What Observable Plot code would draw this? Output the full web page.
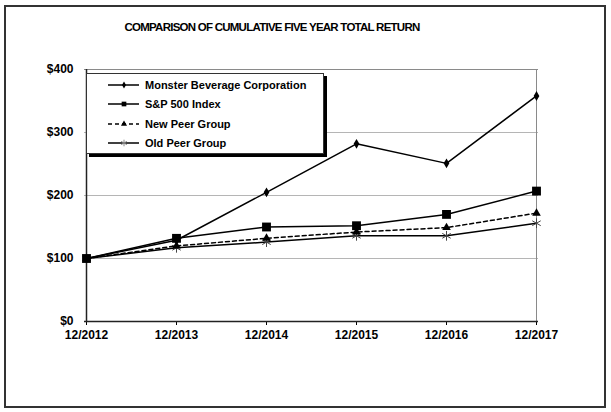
<!DOCTYPE html>
<html><head><meta charset="utf-8">
<script src="https://cdn.jsdelivr.net/npm/d3@7"></script>
<script src="https://cdn.jsdelivr.net/npm/@observablehq/plot@0.6"></script>
<style>
body{margin:0;background:#fff;font-family:"Liberation Sans",Arial,sans-serif;}
#wrap{position:relative;width:611px;height:412px;overflow:hidden;background:#fff;}
#border{position:absolute;left:4px;top:5px;width:602px;height:403px;border:2px solid #333;box-sizing:border-box;}
#title{position:absolute;left:0;top:20px;width:544px;text-align:center;font-weight:bold;font-size:11.5px;letter-spacing:-0.75px;line-height:14px;color:#000;}
#chart{position:absolute;left:0;top:40px;}
#legend{position:absolute;left:86px;top:73px;width:238px;height:81px;box-sizing:border-box;border:1px solid #333;background:#fff;box-shadow:3px 3px 0 #000;}
.row{position:absolute;left:0;height:16px;font-weight:bold;font-size:11px;color:#000;}
.row svg{position:absolute;left:20px;top:0;}
.row span{position:absolute;left:58px;top:1px;white-space:nowrap;line-height:14px;}
</style></head>
<body>
<div id="wrap">
  <div id="border"></div>
  <div id="title">COMPARISON OF CUMULATIVE FIVE YEAR TOTAL RETURN</div>
  <div id="chart"></div>
  <div id="legend"></div>
</div>
<script>
const years = ["12/2012","12/2013","12/2014","12/2015","12/2016","12/2017"];
const seriesNames = ["Monster Beverage Corporation","S&P 500 Index","New Peer Group","Old Peer Group"];
const monster = [100,129,205,282,251,358];
const sp500   = [100,132,150,152,170,207];
const newPeer = [100,120,132,142,149,172];
const oldPeer = [100,117,126,136,136,156];
const yTicks = [0,100,200,300,400];

const values = [monster, sp500, newPeer, oldPeer];
const symbols = ["diamond","square","triangle","asterisk"];
const radii = [3, 5, 3.2, 4.6];
const dashes = [null, null, "4,3", null];

const data = [];
seriesNames.forEach((s, i) => values[i].forEach((v, j) => data.push({series: s, year: years[j], value: v})));

const W = 611, H = 372;
const marks = [
  Plot.ruleY([100,200,300], {stroke: "#b5b5b5", strokeWidth: 1}),
  Plot.ruleY([400], {stroke: "#8a8a8a", strokeWidth: 1}),
  Plot.ruleX([years[years.length-1]], {stroke: "#8a8a8a", strokeWidth: 1}),
  Plot.axisX({tickSize: 4, tickPadding: 5, stroke: "#000"}),
  Plot.axisY({ticks: yTicks, tickSize: 0, tickPadding: 11, tickFormat: d => "$" + d}),
  Plot.ruleY([0], {stroke: "#222", strokeWidth: 1.5}),
  Plot.ruleX([years[0]], {stroke: "#222", strokeWidth: 1.5})
];
// draw in reverse so Monster on top
for (let i = seriesNames.length - 1; i >= 0; i--) {
  const d = data.filter(r => r.series === seriesNames[i]);
  marks.push(Plot.line(d, {x: "year", y: "value", stroke: "#000", strokeWidth: 1.5, strokeDasharray: dashes[i]}));
  marks.push(Plot.dot(d, {x: "year", y: "value", symbol: () => symbols[i], r: radii[i],
    fill: symbols[i] === "asterisk" ? "none" : "#000",
    stroke: symbols[i] === "asterisk" ? "#444" : "none", strokeWidth: 1}));
}

const chart = Plot.plot({
  width: W, height: H,
  marginLeft: 84, marginRight: 73, marginTop: 29, marginBottom: 91,
  style: {fontFamily: "'Liberation Sans', Arial, sans-serif", fontSize: "12px", fontWeight: "bold", color: "#000", background: "transparent"},
  x: {type: "point", domain: years, padding: 0, label: null},
  y: {domain: [0, 400], label: null},
  symbol: {type: "identity"},
  marks
});
document.getElementById("chart").appendChild(chart);

// legend
const legend = document.getElementById("legend");
const rowTops = [3, 22, 42, 61];
seriesNames.forEach((s, i) => {
  const row = document.createElement("div");
  row.className = "row";
  row.style.top = rowTops[i] + "px";
  row.style.width = "230px";
  const svg = d3.create("svg").attr("width", 34).attr("height", 16);
  svg.append("line").attr("x1", 1).attr("x2", 32).attr("y1", 8).attr("y2", 8)
    .attr("stroke", "#000").attr("stroke-width", 1.5).attr("stroke-dasharray", dashes[i]);
  const symMap = {diamond: d3.symbolDiamond, square: d3.symbolSquare, triangle: d3.symbolTriangle, asterisk: d3.symbolAsterisk};
  const sizes = {diamond: 14, square: 22, triangle: 16, asterisk: 30};
  svg.append("path").attr("transform", "translate(17,8)")
    .attr("d", d3.symbol(symMap[symbols[i]], sizes[symbols[i]])())
    .attr("fill", symbols[i] === "asterisk" ? "none" : "#000")
    .attr("stroke", symbols[i] === "asterisk" ? "#888" : "none");
  row.appendChild(svg.node());
  const sp = document.createElement("span");
  sp.textContent = s;
  row.appendChild(sp);
  legend.appendChild(row);
});
</script>
</body></html>
